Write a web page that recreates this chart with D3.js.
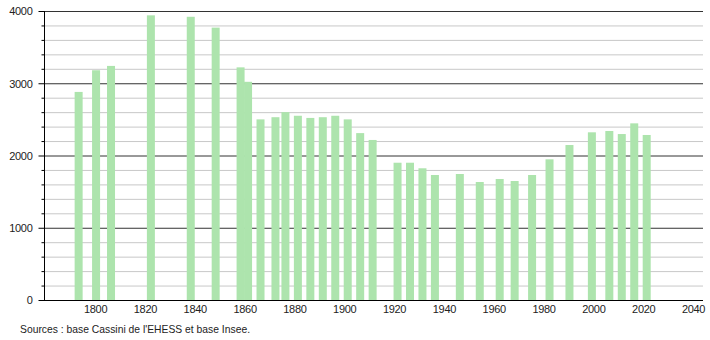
<!DOCTYPE html>
<html>
<head>
<meta charset="utf-8">
<script src="https://cdn.jsdelivr.net/npm/d3@7"></script>
<style>
  body { margin: 0; background: #fff; }
  svg text { font-family: "Liberation Sans", Arial, sans-serif; }
</style>
</head>
<body>
<div id="chart"></div>
<script>
// population by census year
const years = [1793, 1800, 1806, 1822, 1838, 1848, 1858, 1861, 1866, 1872, 1876, 1881, 1886,
  1891, 1896, 1901, 1906, 1911, 1921, 1926, 1931, 1936, 1946, 1954, 1962, 1968, 1975,
  1982, 1990, 1999, 2006, 2011, 2016, 2021];
const population = [2880, 3180, 3240, 3940, 3920, 3770, 3220, 3020, 2500, 2530, 2600, 2550, 2520,
  2530, 2550, 2500, 2310, 2215, 1900, 1900, 1823, 1730, 1744, 1633, 1675, 1647, 1730,
  1947, 2145, 2321, 2339, 2297, 2445, 2284];
const xTicks = [1800, 1820, 1840, 1860, 1880, 1900, 1920, 1940, 1960, 1980, 2000, 2020, 2040];
const yMajor = [0, 1000, 2000, 3000, 4000];
const sourceText = "Sources : base Cassini de l'EHESS et base Insee.";

function drawChart(containerId = "chart") {
    const W = 710, H = 340;
    const left = 44, right = 703, top = 11, bottom = 300;
    const svg = d3.select(`#${containerId}`).append("svg")
        .attr("width", W)
        .attr("height", H);

    const x = d3.scaleLinear().domain([1779.5, 2044]).range([left, right]);
    const y = d3.scaleLinear().domain([0, 4000]).range([bottom, top]);

    // minor grid every 200
    const minor = d3.range(200, 4000, 200).filter(v => v % 1000 !== 0);
    svg.append("g").selectAll("line").data(minor).enter().append("line")
        .attr("x1", left).attr("x2", right)
        .attr("y1", d => y(d) + 0.5).attr("y2", d => y(d) + 0.5)
        .attr("stroke", "#c8c8c8").attr("stroke-width", 1);
    // major grid
    svg.append("g").selectAll("line").data(yMajor.filter(v => v > 0)).enter().append("line")
        .attr("x1", left).attr("x2", right)
        .attr("y1", d => y(d) + 0.5).attr("y2", d => y(d) + 0.5)
        .attr("stroke", "#333").attr("stroke-width", 1);

    // bars
    const data = years.map((yr, i) => ({ year: yr, value: population[i] }));
    const bw = 8;
    svg.append("g").selectAll("rect").data(data).enter().append("rect")
        .attr("x", d => x(d.year) - bw / 2 + 1)
        .attr("y", d => y(d.value))
        .attr("width", bw)
        .attr("height", d => bottom - y(d.value))
        .attr("fill", "#ade4ad");

    // y axis
    const yAxis = d3.axisLeft(y).tickValues(yMajor).tickSize(6).tickPadding(6).tickFormat(d3.format("d"));
    const gy = svg.append("g").attr("transform", `translate(${left + 0.5},0)`).call(yAxis);
    gy.select(".domain").attr("stroke", "#000").attr("d", `M0,${top}V${bottom}`);
    gy.selectAll(".tick line").attr("stroke", "#000");
    gy.selectAll("text").attr("font-size", 11).attr("fill", "#222").attr("dy", "0.35em")
        .attr("letter-spacing", "-0.3");
    const yMinor = d3.axisLeft(y).tickValues(minor).tickSize(3).tickFormat("");
    const gm = svg.append("g").attr("transform", `translate(${left + 0.5},0)`).call(yMinor);
    gm.select(".domain").remove();
    gm.selectAll(".tick line").attr("stroke", "#000");

    // x axis
    const xAxis = d3.axisBottom(x).tickValues(xTicks).tickSize(0).tickPadding(5).tickFormat(d3.format("d"));
    const gx = svg.append("g").attr("transform", `translate(0,${bottom + 0.5})`).call(xAxis);
    gx.select(".domain").attr("stroke", "#000").attr("d", `M${left - 5},0H${right}`);
    gx.selectAll("text").attr("font-size", 11).attr("fill", "#222").attr("letter-spacing", "-0.3");

    svg.append("text")
        .attr("x", 20).attr("y", 333)
        .attr("font-size", 11).attr("fill", "#222")
        .attr("textLength", 230).attr("lengthAdjust", "spacingAndGlyphs")
        .text(sourceText);
}

document.addEventListener('DOMContentLoaded', () => {
    drawChart();
});
</script>
</body>
</html>
